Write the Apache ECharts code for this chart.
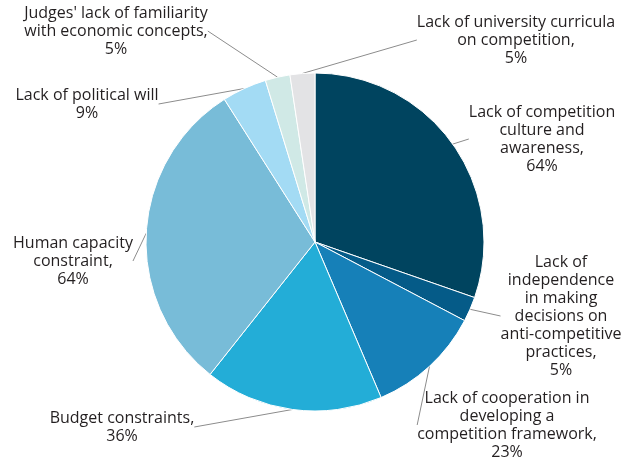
<!DOCTYPE html>
<html>
<head>
<meta charset="utf-8">
<script src="https://cdn.jsdelivr.net/npm/echarts@6/dist/echarts.min.js"></script>
<style>
  html, body { margin: 0; padding: 0; background: #fff; }
  #pie_chart { width: 635px; height: 459px; }
</style>
</head>
<body>
<div id="pie_chart"></div>
<script>
// categories (clockwise from 12 o'clock)
const categories = [
  'Lack of competition\nculture and\nawareness,',
  'Lack of\nindependence\nin making\ndecisions on\nanti-competitive\npractices,',
  'Lack of cooperation in\ndeveloping a\ncompetition framework,',
  'Budget constraints,',
  'Human capacity\nconstraint,',
  'Lack of political will',
  "Judges' lack of familiarity\nwith economic concepts,",
  'Lack of university curricula\non competition,'
]
// percent of respondents
const values = [64, 5, 23, 36, 64, 9, 5, 5]
const colors = ['#00445f', '#055b88', '#1680b8', '#23add7', '#78bcd8', '#a3dbf4', '#d0e9e6', '#e3e3e5']
// label anchor (center x, top y)
const labelPos = [
  [542, 103], [561, 253], [507, 389], [122, 409],
  [73, 234], [87, 86], [116, 4], [516, 13]
]

const chart = echarts.init(document.getElementById('pie_chart'))

const option = {
  animation: false,
  series: [{
    type: 'pie',
    center: [315, 242],
    radius: 169,
    startAngle: 90,
    clockwise: true,
    itemStyle: {
      borderColor: '#fff',
      borderWidth: 1
    },
    label: {
      show: true,
      color: '#231f20',
      fontFamily: 'Open Sans',
      fontSize: 16,
      lineHeight: 18,
      align: 'center',
      overflow: 'none',
      edgeDistance: 0,
      bleedMargin: 0,
      formatter: p => p.name + '\n' + p.value + '%'
    },
    labelLine: {
      show: true,
      length: 6,
      length2: 0,
      lineStyle: { color: '#8c8c8c', width: 1 }
    },
    labelLayout: params => {
      const pos = labelPos[params.dataIndex]
      return {
        x: pos[0],
        y: pos[1],
        align: 'center',
        verticalAlign: 'top'
      }
    },
    data: categories.map((name, i) => ({
      name: name,
      value: values[i],
      itemStyle: { color: colors[i] }
    }))
  }]
}

chart.setOption(option)
</script>
</body>
</html>
